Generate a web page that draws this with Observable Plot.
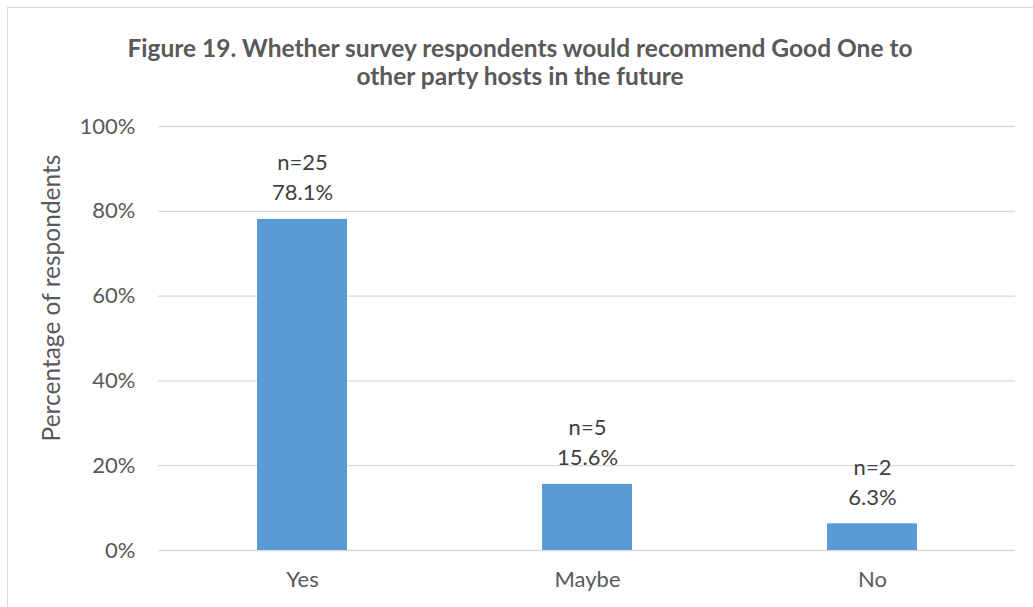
<!DOCTYPE html>
<html>
<head>
<meta charset="utf-8">
<script src="https://cdn.jsdelivr.net/npm/d3@7"></script>
<script src="https://cdn.jsdelivr.net/npm/@observablehq/plot@0.6"></script>
<style>
  body { margin: 0; background: #fff; }
  #wrap { position: relative; width: 1033px; height: 607px; overflow: hidden; font-family: Lato, "Open Sans", sans-serif; }
  #frame { position: absolute; left: 7px; top: 7px; width: 1040px; height: 620px; border: 1px solid #d9d9d9; box-sizing: border-box; }
  #title { position: absolute; left: 0; width: 1040px; top: 34px; text-align: center; font-weight: bold; font-size: 24.5px; line-height: 28px; color: #595959; }
  #ylabel { position: absolute; left: 50px; top: 298px; transform: translate(-50%, -50%) rotate(-90deg); white-space: nowrap; font-size: 24.5px; color: #595959; }
  #chart { position: absolute; left: 0; top: 0; }
</style>
</head>
<body>
<div id="wrap">
  <div id="frame"></div>
  <div id="chart"></div>
  <div id="title">Figure 19. Whether survey respondents would recommend Good One to<br>other party hosts in the future</div>
  <div id="ylabel">Percentage of respondents</div>
</div>
<script>
const categories = ["Yes", "Maybe", "No"];
const percents = [78.1, 15.6, 6.3];
const counts = [25, 5, 2];
const yTicks = [0, 20, 40, 60, 80, 100];

const data = categories.map((c, i) => ({cat: c, pct: percents[i], n: counts[i]}));

const chart = Plot.plot({
  width: 1033,
  height: 607,
  marginTop: 126,
  marginBottom: 57,
  marginLeft: 158,
  marginRight: 18,
  style: {fontFamily: "Lato, 'Open Sans', sans-serif", fontSize: "22px", color: "#595959", background: "transparent"},
  x: {domain: categories, paddingInner: 0.685, paddingOuter: 0.3425, label: null},
  y: {domain: [0, 100], label: null},
  marks: [
    Plot.gridY(yTicks, {stroke: "#d9d9d9", strokeOpacity: 1, strokeWidth: 1.3}),
    Plot.barY(data, {x: "cat", y: "pct", fill: "#5b9bd5"}),
    Plot.text(data, {x: "cat", y: "pct", text: d => `n=${d.n}\n${d.pct.toFixed(1)}%`, lineAnchor: "bottom", dy: -19, lineHeight: 1.36, fontSize: 22, fill: "#404040"}),
    Plot.axisX({tickSize: 0, tickPadding: 21, fontSize: 22, label: null}),
    Plot.axisY({ticks: yTicks, tickFormat: d => d + "%", tickSize: 0, tickPadding: 23, fontSize: 22, label: null})
  ]
});
document.getElementById("chart").appendChild(chart);
</script>
</body>
</html>
